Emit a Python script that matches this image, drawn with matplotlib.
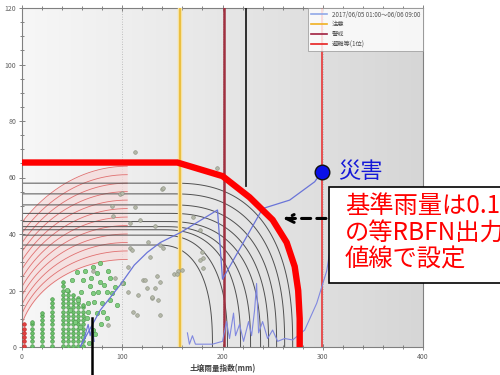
import numpy as np
import matplotlib.pyplot as plt
from matplotlib.lines import Line2D
from matplotlib.patches import Rectangle

plt.rcParams['font.family'] = ['Noto Sans CJK JP', 'DejaVu Sans']

# --- reference lines (soil water index, mm)
caution_x = 158
warning_x = 201
alert_x = 223
alert_y0 = 57
evac_x = 299

# --- critical line (RBFN output 0.1)
crit_x = [0, 155, 200, 227, 250, 264, 272, 275.5, 277, 277]
crit_y = [65.3, 65.3, 60.5, 53, 45, 37, 28.5, 20, 10, 0]

# --- RBFN contours (black): flat level, start of bend, end on x axis
black_h = [58.0, 54.2, 50.3, 47.3, 44.4, 42.6, 41.5, 39.6, 36.1]
black_x0 = [150, 150, 148, 146, 144, 142, 140, 138, 135]
black_x1 = [270, 262, 254, 246, 238, 228, 218, 205, 190]

# --- RBFN contours (red, low side)
red_cx = 105
red_b = [31, 34, 37, 40, 43, 46, 49, 52, 55, 58, 61, 64]
red_a = [109, 112, 115, 118, 121, 124, 127, 130, 133, 136, 140, 145]

# --- rainfall snake lines
snake1_x = [58, 78, 98, 112, 125, 138, 158, 195, 200, 240, 267, 292, 299]
snake1_y = [0, 13, 22, 29, 33.5, 37, 40.5, 48.5, 24, 49, 52, 58.5, 62]
snake2_x = [165, 167, 170, 173, 190, 200, 204, 207, 211, 213, 217, 221, 226,
            229, 232, 234, 236, 240, 245, 250, 255, 262, 270, 282, 294, 304, 308]
snake2_y = [5, 1, 4, 1, 1, 2, 9, 3, 12, 4, 8, 2, 9,
            4, 13, 22.5, 5, 9, 3, 6, 2, 3, 2.5, 6, 15.5, 27, 36]
snake3_x = [58, 62, 66, 68, 70, 72]
snake3_y = [0, 3, 8, 4, 7, 2]

disaster_x = 299
disaster_y = 62
pointer_x = 70
pointer_y = 10.3

# --- non-occurrence data, columns of hourly points at low SWI
col_x = [9.7, 19.6, 30.2, 41.0, 46.0, 51.0, 56.0, 61.0]
col_y = [
    [0.5, 2, 3.5, 5, 6.5, 8, 9],
    [0.5, 2, 3.5, 5, 6.5, 8, 9.5, 11, 12],
    [0.5, 2, 3.5, 5, 6.5, 8, 9.5, 11, 12.5, 14, 15.5, 17],
    [0.5, 2, 3.5, 5, 6.5, 8, 9.5, 11, 12.5, 14, 15.5, 17, 18.5, 20, 21.5, 23],
    [0.5, 2, 3.5, 5, 6.5, 8, 9.5, 11, 12.5, 14, 15.5, 17, 18.5, 20],
    [0.5, 2, 3.5, 5, 6.5, 8, 9.5, 11, 12.5, 14, 15.5, 17, 18.5],
    [0.5, 2, 3.5, 5, 6.5, 8, 9.5, 11, 12.5, 14, 15.5, 17.3],
    [0.5, 2, 3.5, 5, 6.5, 8, 9.5, 11, 12.5, 14, 15],
]
red_col_x = [2, 2, 2, 2, 2, 2]
red_col_y = [0.5, 2, 3.5, 5, 6.5, 8]

green_x = [74.8, 77.8, 61, 84.8, 70.8, 87.8, 79.8, 65.8, 55.9, 94.8, 74.8, 64.8,
           57.9, 70.8, 60.8, 47.9, 44.9, 49.9, 54.9, 70.8, 77.8, 92.8, 100.7, 87.8,
           80.8, 84.8, 68, 72, 66, 82, 76, 90, 59, 63, 53, 69, 86, 79, 73, 67]
green_y = [26.2, 23, 23.7, 19.5, 19, 16.6, 15.6, 15.6, 16.6, 14.9, 12, 10.3,
           7.1, 6, 3.5, 13.1, 20.2, 23.7, 26.5, 28.3, 29.7, 21.2, 22.6, 24.4,
           12.4, 10.3, 21.5, 16, 12.5, 22, 19.5, 19, 19.5, 27, 9, 24.5, 27, 8, 4.5, 1.5]

gray_x = [112.7, 194.5, 140, 98, 113, 90, 118, 108, 133, 126, 108, 128, 138,
          155.6, 152, 135, 138, 121, 124.7, 132.7, 116, 106, 130, 135.7, 100,
          93, 71, 180.5, 179.5, 159.6, 177.6, 137.6, 114.7, 110.7, 85.8, 122.7,
          129.7, 105.7, 109.7, 99.7, 91, 140.6, 170.6, 177.6, 180.5, 154.6, 140.6]
gray_y = [69, 63.4, 56, 54, 49.6, 50, 45, 44, 43, 37, 35, 32, 36,
          27, 26, 25, 23, 23.7, 21, 21, 18.4, 19.5, 17.3, 16.6, 22.6,
          24.4, 27, 31.5, 33.6, 27.3, 41.4, 11.3, 11.3, 12.4, 7.8, 23.7,
          17.7, 28.3, 34.3, 54.5, 46.5, 56.3, 46, 30.8, 28, 26, 35]

legend_labels = ['2017/06/05 01:00～06/06 09:00', '注意', '警戒', '避難等(1位)']

fig = plt.figure(figsize=(5, 3.75), dpi=100)
ax = fig.add_axes([22 / 500, 1 - 347 / 375, 401 / 500, 339 / 375])
ax.set_xlim(0, 400)
ax.set_ylim(0, 120)

# light-to-grey panel background
grad = np.linspace(0, 1, 256).reshape(1, -1)
ax.imshow(grad, extent=[0, 400, 0, 120], aspect='auto', zorder=0,
          cmap=plt.matplotlib.colors.LinearSegmentedColormap.from_list(
              'bg', ['#f7f7f7', '#d6d6d6']))

for gx in (100, 200, 300):
    ax.axvline(gx, color='#b0b0b0', lw=0.6, ls=(0, (1, 2)), zorder=1)

# pink band of the low-side contours
xs = np.linspace(0, red_cx, 200)
inner = red_b[0] * np.sqrt(np.clip(1 - ((red_cx - xs) / red_a[0]) ** 2, 0, None))
outer = red_b[-1] * np.sqrt(np.clip(1 - ((red_cx - xs) / red_a[-1]) ** 2, 0, None))
ax.fill_between(xs, inner, outer, color='#f6dada', alpha=0.7, lw=0, zorder=1)

for a, b in zip(red_a, red_b):
    yy = b * np.sqrt(np.clip(1 - ((red_cx - xs) / a) ** 2, 0, None))
    m = yy > 0
    ax.plot(xs[m], yy[m], color='#e07070', lw=0.6, zorder=2)

# black contours: flat part then rounded corner to the x axis
t = np.linspace(0, np.pi / 2, 120)
p = 2.5
for h, x0, x1 in zip(black_h, black_x0, black_x1):
    cx = x0 + (x1 - x0) * np.sin(t) ** (2 / p)
    cy = h * np.cos(t) ** (2 / p)
    ax.plot(np.r_[0, cx], np.r_[h, cy], color='#505050', lw=0.7, zorder=2)

# reference lines
ax.axvline(caution_x, color='#f7e2a0', lw=3.2, zorder=3)
ax.axvline(caution_x, color='#e8b830', lw=1.2, zorder=3)
ax.axvline(warning_x, color='#a03040', lw=1.8, zorder=3)
ax.plot([alert_x, alert_x], [alert_y0, 120], color='#202020', lw=1.3, zorder=3)
ax.axvline(evac_x, color='#e82828', lw=1.1, zorder=3)

# points
for cxv, cys in zip(col_x, col_y):
    ax.scatter([cxv] * len(cys), cys, s=7, color='#6cc06c', edgecolor='#3f8f3f',
               lw=0.4, zorder=4)
ax.scatter(red_col_x, red_col_y, s=7, color='#e04040', edgecolor='#c02020',
           lw=0.4, zorder=4)
ax.scatter(green_x, green_y, s=10, color='#80cc80', edgecolor='#4a9a4a',
           lw=0.4, zorder=4)
ax.scatter(gray_x, gray_y, s=7, color='#b4b8a8', edgecolor='#8a8e80',
           lw=0.4, zorder=4)

# snake lines
ax.plot(snake1_x, snake1_y, color='#6a74d8', lw=0.9, zorder=5)
ax.plot(snake2_x, snake2_y, color='#8088e0', lw=0.8, zorder=5)
ax.plot(snake3_x, snake3_y, color='#6a74d8', lw=0.8, zorder=5)

# critical line
ax.plot(crit_x, crit_y, color='#ff0000', lw=4.6, solid_joinstyle='miter',
        zorder=6)

ax.plot([disaster_x], [disaster_y], 'o', ms=10.5, color='#0a10e8', mec='#101010',
        mew=1.0, zorder=7, clip_on=False)
ax.text(315, disaster_y, '災害', color='#1418d8', fontsize=16, va='center',
        ha='left', zorder=7)

# pointer below the axis
ax.plot([pointer_x, pointer_x], [pointer_y, -10], color='black', lw=1.8,
        clip_on=False, zorder=8)

# axes styling
for s in ax.spines.values():
    s.set_color('#808080')
    s.set_linewidth(0.8)
ax.set_xticks([0, 100, 200, 300, 400])
ax.set_xticks(np.arange(0, 401, 20), minor=True)
ax.set_yticks([0, 20, 40, 60, 80, 100, 120])
ax.set_yticks(np.arange(0, 121, 5), minor=True)
ax.tick_params(which='both', direction='inout', colors='#707070',
               labelsize=5, labelcolor='#606060', top=True, width=0.6)
ax.tick_params(which='major', length=4, pad=2)
ax.tick_params(which='minor', length=2.5)
ax.set_xlabel('土壌雨量指数(mm)', fontsize=5.5, fontweight='bold',
              color='#404040', labelpad=3)

handles = [Line2D([], [], color='#90a8e8', lw=1.2),
           Line2D([], [], color='#f0b020', lw=1.2),
           Line2D([], [], color='#a02040', lw=1.2),
           Line2D([], [], color='#e82020', lw=1.2)]
leg = ax.legend(handles, legend_labels, loc='upper right', fontsize=4.5,
                frameon=True, fancybox=False, borderpad=0.4, labelspacing=0.3,
                handlelength=2.6, borderaxespad=0, edgecolor='#909090')
leg.get_frame().set_linewidth(0.6)
leg.set_zorder(9)
for txt in leg.get_texts():
    txt.set_color('#505050')

# callout box
fig.patches.append(Rectangle((329 / 500, 1 - 283 / 375), 0.5, 96 / 375,
                             transform=fig.transFigure, facecolor='white',
                             edgecolor='black', lw=1.2, zorder=10))
callout = ['基準雨量は0.1', 'の等RBFN出力', '値線で設定']
for i, line in enumerate(callout):
    fig.text(345 / 500, 1 - (206 + 27 * i) / 375, line, color='#ff0000',
             fontsize=17.5, va='center', ha='left', zorder=11)

ax.annotate('', xy=(257.5, 45.5), xytext=(306, 45.5),
            arrowprops=dict(arrowstyle='->', color='black', lw=2.2,
                            linestyle=(0, (3, 2)), mutation_scale=14),
            zorder=9, annotation_clip=False)

fig.savefig('out.png', dpi=100)
